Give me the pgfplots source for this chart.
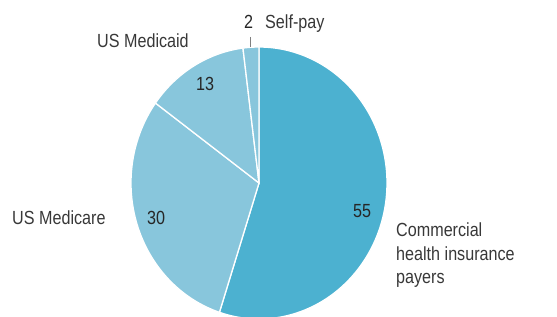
\documentclass[border=0pt]{standalone}
\usepackage{fontspec}
\setmainfont[FakeStretch=0.85]{Liberation Sans}
\usepackage{pgfplots}
\pgfplotsset{compat=1.18}
\definecolor{darkb}{HTML}{4CB1D0}
\definecolor{lightb}{HTML}{88C6DC}
\definecolor{txt}{HTML}{383838}
\definecolor{num}{HTML}{262626}
\tikzset{lab/.style={anchor=base west, inner sep=0pt, font=\fontsize{19}{21}\selectfont}}
% shares (percent)
\def\vComm{55}
\def\vMcare{30}
\def\vMcaid{13}
\def\vSelf{2}
\def\cx{259}
\def\cy{133}
\def\rx{128}
\def\ry{136}
\begin{document}
\begin{tikzpicture}
\pgfmathsetmacro\aA{90-3.6*\vComm}
\pgfmathsetmacro\aB{\aA-3.6*\vMcare}
\pgfmathsetmacro\aC{\aB-3.6*\vMcaid}
\pgfmathsetmacro\aD{\aC-3.6*\vSelf}
\begin{axis}[
  scale only axis, width=557pt, height=316pt,
  xmin=0, xmax=557, ymin=0, ymax=316,
  hide axis, clip=true,
]
\addplot[draw=none] coordinates {(0,0) (557,316)};
\addplot[fill=darkb, draw=white, line width=1.3pt, domain=\aA:90, samples=120, variable=\t]
  ({\cx+\rx*cos(\t)},{\cy+\ry*sin(\t)}) -- (axis cs:\cx,\cy) -- cycle;
\addplot[fill=lightb, draw=white, line width=1.3pt, domain=\aB:\aA, samples=80, variable=\t]
  ({\cx+\rx*cos(\t)},{\cy+\ry*sin(\t)}) -- (axis cs:\cx,\cy) -- cycle;
\addplot[fill=lightb, draw=white, line width=1.3pt, domain=\aC:\aB, samples=40, variable=\t]
  ({\cx+\rx*cos(\t)},{\cy+\ry*sin(\t)}) -- (axis cs:\cx,\cy) -- cycle;
\addplot[fill=lightb, draw=white, line width=1.3pt, domain=\aD:\aC, samples=10, variable=\t]
  ({\cx+\rx*cos(\t)},{\cy+\ry*sin(\t)}) -- (axis cs:\cx,\cy) -- cycle;
\addplot[draw=gray, line width=0.8pt] coordinates {(250,279) (250,269)};
% numbers
\node[lab, num] at (axis cs:353,98) {55};
\node[lab, num] at (axis cs:147,91) {30};
\node[lab, num] at (axis cs:196,225) {13};
\node[lab, num] at (axis cs:244,287) {2};
% labels
\node[lab, txt] at (axis cs:265,287) {Self-pay};
\node[lab, txt] at (axis cs:97,268) {US Medicaid};
\node[lab, txt] at (axis cs:12,91) {US Medicare};
\node[lab, txt] at (axis cs:396,79) {Commercial};
\node[lab, txt] at (axis cs:396,55) {health insurance};
\node[lab, txt] at (axis cs:396,32) {payers};
\end{axis}
\end{tikzpicture}
\end{document}
